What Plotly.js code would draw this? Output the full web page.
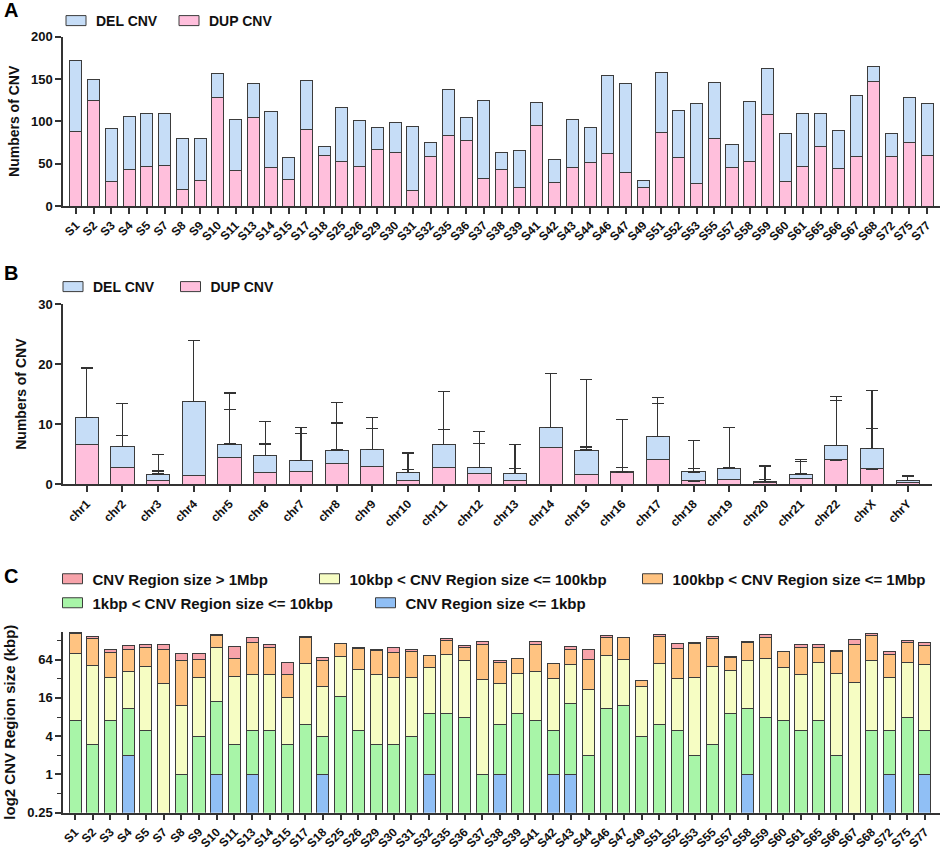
<!DOCTYPE html>
<html>
<head>
<meta charset="utf-8">
<script src="https://cdn.plot.ly/plotly-3.0.1.min.js"></script>
<style>
html,body{margin:0;padding:0;background:#fff;}
#chart{width:941px;height:849px;}
</style>
</head>
<body>
<div id="chart"></div>
<script>
// ---------- Panel A: CNV counts per sample ----------
const samples = ["S1","S2","S3","S4","S5","S7","S8","S9","S10","S11","S13","S14","S15","S17","S18","S25","S26","S29","S30","S31","S32","S35","S36","S37","S38","S39","S41","S42","S43","S44","S46","S47","S49","S51","S52","S53","S55","S57","S58","S59","S60","S61","S65","S66","S67","S68","S72","S75","S77"];
const dupA = [88,125,29,43,47,48,20,30,128,42,104,45,31,90,60,52,47,67,63,18,59,83,77,33,43,22,95,28,46,51,62,40,22,87,57,26,80,45,53,108,29,47,70,44,58,147,59,75,60];
const delA = [84,24,63,63,62,61,60,50,29,60,41,67,26,58,10,64,54,26,36,76,16,55,28,92,20,44,27,27,56,42,92,105,8,71,56,95,66,28,71,54,57,62,39,45,73,18,27,53,61];

// ---------- Panel B: CNV counts per chromosome (mean + SD) ----------
const chroms = ["chr1","chr2","chr3","chr4","chr5","chr6","chr7","chr8","chr9","chr10","chr11","chr12","chr13","chr14","chr15","chr16","chr17","chr18","chr19","chr20","chr21","chr22","chrX","chrY"];
const dupB = [6.7,2.8,0.7,1.5,4.5,1.9,2.2,3.4,3.0,0.6,2.8,1.8,0.7,6.1,1.7,1.9,4.2,0.55,0.8,0.33,1.0,4.05,2.55,0.33];
const delB = [4.4,3.5,1.0,12.3,2.2,2.9,1.7,2.3,2.8,1.3,3.8,1.0,1.1,3.4,4.0,0.15,3.8,1.5,1.9,0.17,0.7,2.45,3.45,0.28];
const dupSD = [12.6,5.3,1.5,3.3,8.0,4.8,6.2,6.8,6.3,1.9,6.3,5.0,1.9,12.3,4.5,0.9,9.3,2.1,2.0,0.45,2.8,9.9,6.8,1.06];
const delSD = [8.4,7.1,3.3,10.1,8.5,5.7,5.6,7.9,5.3,3.3,8.8,6.0,4.8,8.9,11.7,8.75,6.5,5.3,6.8,2.55,2.4,8.15,9.6,0.83];

// ---------- Panel C: CNV counts by region size class ----------
const sizeLe1k   = [0,0,0,2,0,0,0,0,1,0,1,0,0,0,1,0,0,0,0,0,1,0,0,0,1,0,0,1,1,0,0,0,0,0,0,0,0,0,1,0,0,0,0,0,0,0,1,0,1];
const size1k10k  = [7,3,7,9,5,0,1,4,13,3,4,5,3,6,3,17,5,3,3,4,8,9,8,1,5,9,7,4,12,2,11,12,4,6,5,2,3,9,10,8,7,5,7,2,0,5,4,8,4];
const size10k100k= [73,49,27,31,45,27,11,30,84,32,32,33,13,50,20,55,39,34,31,30,40,67,54,30,21,30,35,27,40,20,63,53,20,49,27,32,47,34,51,58,42,32,51,37,28,56,29,50,48];
const size100k1M = [86,86,50,50,50,66,49,31,57,32,80,62,22,89,38,43,51,53,48,51,25,53,36,78,31,27,69,23,41,43,68,80,6,95,65,79,88,27,59,79,37,63,42,46,83,95,44,59,55];
const sizeGt1M   = [6,11,8,14,9,16,19,15,2,35,28,12,19,3,8,1,6,3,17,9,1,9,7,16,5,0,11,0,8,28,12,0,0,8,16,8,8,3,3,17,0,9,9,4,20,9,8,11,13];

const logTicks = [0.25,1,4,16,64];
const logMinor = [0.5,2,8,32,128];

// ---------- styling ----------
const FONT = "Liberation Sans, Arial, Helvetica, sans-serif";
const INK = "#333333";
const COL_DEL = "#C6DDF7", COL_DUP = "#FFBFDC";
const COL_RED = "#F7A3AA", COL_YEL = "#F6FDC3", COL_ORA = "#FFC381", COL_GRN = "#A8F5A8", COL_BLU = "#90BFF5";
const W = 941, H = 849;
const px = v => v / W, py = v => 1 - v / H;
const barLine = {color: "#3c3c3c", width: 1};

function bar(x, y, name, color, xa, ya, leg, width, extra) {
  return Object.assign({
    type: "bar", x: x, y: y, name: name, xaxis: xa, yaxis: ya, legend: leg,
    width: width, marker: {color: color, line: barLine}, hoverinfo: "skip"
  }, extra || {});
}
const zeros = chroms.map(() => 0);

const data = [
  bar(samples, dupA, "DUP CNV", COL_DUP, "x", "y", "legend2", 0.68),
  bar(samples, delA, "DEL CNV", COL_DEL, "x", "y", "legend", 0.68),
  bar(chroms, dupB, "DUP CNV", COL_DUP, "x2", "y2", "legend4", 0.65,
      {error_y: {type: "data", symmetric: false, array: dupSD, arrayminus: zeros, color: INK, thickness: 1.2, width: 6}}),
  bar(chroms, delB, "DEL CNV", COL_DEL, "x2", "y2", "legend3", 0.65,
      {error_y: {type: "data", symmetric: false, array: delSD, arrayminus: zeros, color: INK, thickness: 1.2, width: 6}}),
  bar(samples, sizeLe1k, "CNV Region size <= 1kbp", COL_BLU, "x3", "y3", "legend9", 0.68),
  bar(samples, size1k10k, "1kbp < CNV Region size <= 10kbp", COL_GRN, "x3", "y3", "legend8", 0.68),
  bar(samples, size10k100k, "10kbp < CNV Region size <= 100kbp", COL_YEL, "x3", "y3", "legend6", 0.68),
  bar(samples, size100k1M, "100kbp < CNV Region size <= 1Mbp", COL_ORA, "x3", "y3", "legend7", 0.68),
  bar(samples, sizeGt1M, "CNV Region size > 1Mbp", COL_RED, "x3", "y3", "legend5", 0.68)
];

const tickFontX = {family: FONT, size: 12, color: "#111", weight: "bold"};
const tickFontY = {family: FONT, size: 13, color: "#111", weight: "bold"};
const titleFont = {family: FONT, size: 14, color: "#111", weight: "bold"};
const titleFontC = {family: FONT, size: 15, color: "#111", weight: "bold"};

function xax(domain, range, anchor) {
  return {domain: domain, anchor: anchor, type: "category", range: range,
    tickmode: "linear", tick0: 0, dtick: 1, tickangle: -45,
    showline: true, linecolor: INK, linewidth: 1.5, ticks: "outside", ticklen: 6, tickwidth: 1.5, tickcolor: INK,
    showgrid: false, zeroline: false, tickfont: tickFontX, fixedrange: true};
}
function yax(domain, range, anchor, title, tfont, extra) {
  return Object.assign({domain: domain, anchor: anchor, range: range,
    showline: true, linecolor: INK, linewidth: 1.5, ticks: "outside", ticklen: 6, tickwidth: 1.5, tickcolor: INK,
    showgrid: false, zeroline: false, tickfont: tickFontY, fixedrange: true,
    title: {text: title, font: tfont, standoff: 8}}, extra || {});
}
function leg(cx, cy, size) {
  return {x: px(cx - 20), y: py(cy), xanchor: "left", yanchor: "middle", orientation: "h",
    bgcolor: "rgba(0,0,0,0)", borderwidth: 0, itemclick: false, itemdoubleclick: false,
    font: {family: FONT, size: size, color: "#111", weight: "bold"}};
}

const layout = {
  width: W, height: H, margin: {l: 0, r: 0, t: 0, b: 0},
  paper_bgcolor: "#fff", plot_bgcolor: "rgba(0,0,0,0)",
  barmode: "stack", showlegend: true,
  font: {family: FONT, color: "#111"},
  xaxis: xax([px(63), px(940)], [-0.73, 48.73], "y"),
  yaxis: yax([py(206), py(36.7)], [0, 200], "x", "Numbers of CNV", titleFont, {tickmode: "array", tickvals: [0,50,100,150,200]}),
  xaxis2: xax([px(63), px(931.7)], [-0.664, 23.67], "y2"),
  yaxis2: yax([py(484.3), py(304)], [0, 30], "x2", "Numbers of CNV", titleFont, {tickmode: "array", tickvals: [0,10,20,30]}),
  xaxis3: xax([px(63), px(940)], [-0.68, 48.85], "y3"),
  yaxis3: yax([py(812.7), py(631.7)], [Math.log10(0.25), 7.46 * Math.log10(2)], "x3", "log2 CNV Region size (kbp)", titleFontC,
    {type: "log", tickmode: "array", tickvals: logTicks, ticktext: logTicks.map(String),
     minor: {tickmode: "array", tickvals: logMinor, ticks: "outside", ticklen: 4, tickwidth: 1.2, tickcolor: INK}}),
  legend: leg(76, 21, 14),
  legend2: leg(189, 21, 14),
  legend3: leg(73, 287, 14),
  legend4: leg(190.5, 287, 14),
  legend5: leg(72.5, 579, 15),
  legend6: leg(329.5, 579, 15),
  legend7: leg(652.5, 579, 15),
  legend8: leg(72.5, 603, 15),
  legend9: leg(385.5, 603, 15),
  annotations: [
    {text: "A", x: px(2), y: py(10), xref: "paper", yref: "paper", xanchor: "left", yanchor: "middle", showarrow: false, font: {family: FONT, size: 20, color: "#000", weight: "bold"}},
    {text: "B", x: px(2), y: py(272.5), xref: "paper", yref: "paper", xanchor: "left", yanchor: "middle", showarrow: false, font: {family: FONT, size: 20, color: "#000", weight: "bold"}},
    {text: "C", x: px(2), y: py(575.5), xref: "paper", yref: "paper", xanchor: "left", yanchor: "middle", showarrow: false, font: {family: FONT, size: 20, color: "#000", weight: "bold"}}
  ]
};

function widenLegendSymbols(gd) {
  gd.querySelectorAll(".legendpoints path").forEach(function (p) {
    p.setAttribute("d", "M10,5H-10V-5H10Z");
  });
}
const gdiv = document.getElementById("chart");
Plotly.newPlot(gdiv, data, layout, {displayModeBar: false, responsive: false}).then(function (gd) {
  widenLegendSymbols(gd);
  gd.on("plotly_afterplot", function () { widenLegendSymbols(gd); });
  setTimeout(function () { widenLegendSymbols(gd); }, 50);
});
</script>
</body>
</html>
